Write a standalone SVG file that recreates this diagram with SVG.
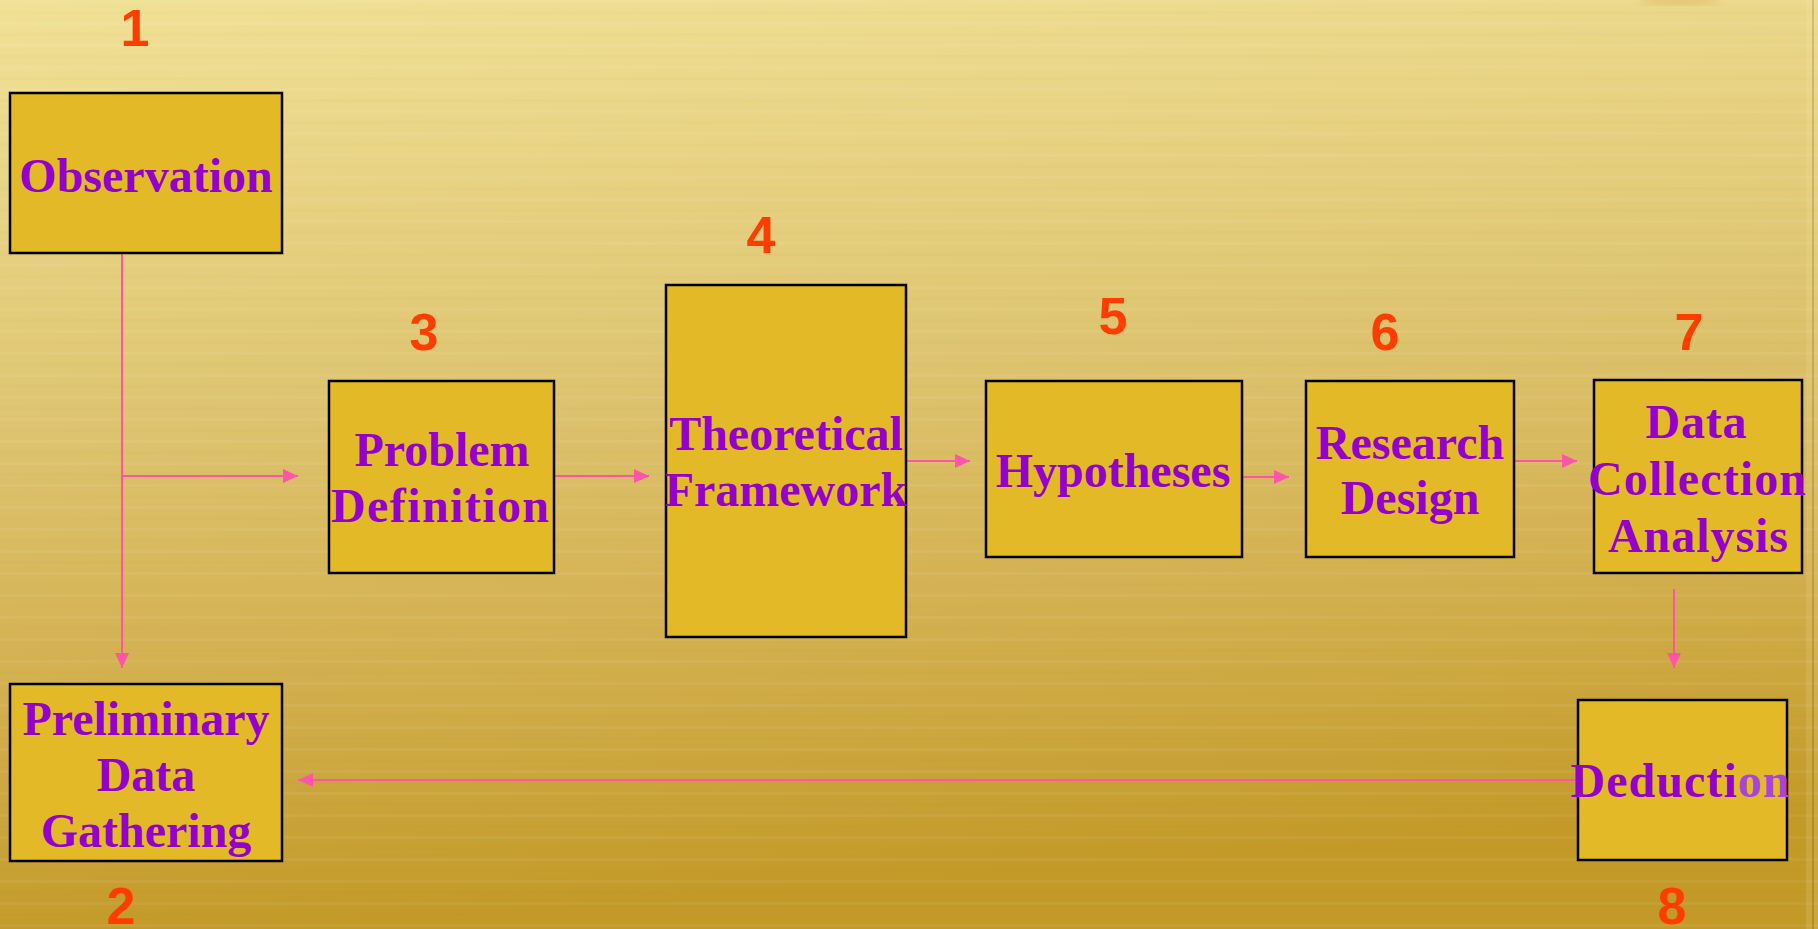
<svg xmlns="http://www.w3.org/2000/svg" width="1818" height="929" viewBox="0 0 1818 929">
<defs>
<linearGradient id="bg" x1="0" y1="0" x2="0.15" y2="1">
<stop offset="0" stop-color="#F1E196"/>
<stop offset="0.45" stop-color="#DEC470"/>
<stop offset="0.75" stop-color="#D2AE4C"/>
<stop offset="1" stop-color="#C39A28"/>
</linearGradient>
<pattern id="stripes" x="0" y="0" width="40" height="22" patternUnits="userSpaceOnUse">
<rect x="0" y="0" width="40" height="3" fill="#FFFFFF" opacity="0.05"/>
<rect x="0" y="11" width="40" height="3" fill="#8A6A00" opacity="0.025"/>
</pattern>
<marker id="arr" markerUnits="userSpaceOnUse" markerWidth="16" markerHeight="14" refX="15" refY="7" orient="auto">
<path d="M0,0 L15,7 L0,14 Z" fill="#FF55A8"/>
</marker>
<filter id="blur"><feGaussianBlur stdDeviation="4"/></filter>
</defs>
<style>
.box{fill:#E4B927;stroke:#000;stroke-width:2.5}
.lbl{font-family:"Liberation Serif","Times New Roman",serif;font-weight:bold;font-size:48px;fill:#9400CC;text-anchor:middle}
.num{font-family:"Liberation Sans",Arial,sans-serif;font-weight:bold;font-size:52px;fill:#FF3D00;text-anchor:middle}
.con{stroke:#FF55A8;stroke-width:2;fill:none}
</style>
<rect x="0" y="0" width="1818" height="929" fill="url(#bg)"/>
<rect x="0" y="0" width="1818" height="929" fill="url(#stripes)"/>
<ellipse cx="1680" cy="0" rx="40" ry="5" fill="#D8A040" opacity="0.4" filter="url(#blur)"/>
<rect x="1806" y="0" width="6" height="929" fill="#FFF3C0" opacity="0.12"/>
<rect x="1812" y="0" width="2" height="929" fill="#8A6A10" opacity="0.25"/>
<rect x="1814" y="0" width="4" height="929" fill="#FFF3C0" opacity="0.15"/>

<g id="connectors">
<path class="con" d="M122,253 L122,668" marker-end="url(#arr)"/>
<path class="con" d="M122,476 L298,476" marker-end="url(#arr)"/>
<path class="con" d="M554,476 L649,476" marker-end="url(#arr)"/>
<path class="con" d="M906,461 L970,461" marker-end="url(#arr)"/>
<path class="con" d="M1242,477 L1289,477" marker-end="url(#arr)"/>
<path class="con" d="M1514,461 L1577,461" marker-end="url(#arr)"/>
<path class="con" d="M1674,589 L1674,668" marker-end="url(#arr)"/>
<path class="con" d="M1578,780 L298,780" marker-end="url(#arr)"/>
</g>

<g id="n1">
<text class="num" x="135" y="46">1</text>
<rect class="box" x="10" y="93" width="272" height="160"/>
<text class="lbl" x="146" y="192">Observation</text>
</g>
<g id="n2">
<rect class="box" x="10" y="684" width="272" height="177"/>
<text class="lbl" x="146" y="735">Preliminary</text>
<text class="lbl" x="146" y="791">Data</text>
<text class="lbl" x="146" y="847">Gathering</text>
<text class="num" x="121" y="924">2</text>
</g>
<g id="n3">
<text class="num" x="424" y="350">3</text>
<rect class="box" x="329" y="381" width="225" height="192"/>
<text class="lbl" x="442" y="466">Problem</text>
<text class="lbl" x="440" y="522" textLength="218" lengthAdjust="spacing">Definition</text>
</g>
<g id="n4">
<text class="num" x="761" y="253">4</text>
<rect class="box" x="666" y="285" width="240" height="352"/>
<text class="lbl" x="786" y="450">Theoretical</text>
<text class="lbl" x="786" y="506">Framework</text>
</g>
<g id="n5">
<text class="num" x="1113" y="334">5</text>
<rect class="box" x="986" y="381" width="256" height="176"/>
<text class="lbl" x="1113" y="487">Hypotheses</text>
</g>
<g id="n6">
<text class="num" x="1385" y="350">6</text>
<rect class="box" x="1306" y="381" width="208" height="176"/>
<text class="lbl" x="1410" y="459">Research</text>
<text class="lbl" x="1410" y="514">Design</text>
</g>
<g id="n7">
<text class="num" x="1689" y="350">7</text>
<rect class="box" x="1594" y="380" width="208" height="193"/>
<text class="lbl" x="1696" y="438" textLength="101" lengthAdjust="spacing">Data</text>
<text class="lbl" x="1697" y="495" textLength="218" lengthAdjust="spacing">Collection</text>
<text class="lbl" x="1698" y="552" textLength="180" lengthAdjust="spacing">Analysis</text>
</g>
<g id="n8">
<rect class="box" x="1578" y="700" width="209" height="160"/>
<text class="lbl" x="1680" y="797" textLength="219" lengthAdjust="spacing">Deducti<tspan fill="#A845D8">on</tspan></text>
<text class="num" x="1672" y="924">8</text>
</g>
</svg>
